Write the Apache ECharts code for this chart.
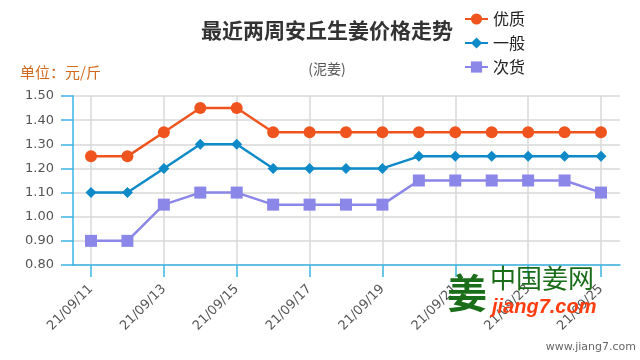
<!DOCTYPE html>
<html><head><meta charset="utf-8">
<script src="https://cdn.jsdelivr.net/npm/echarts@6/dist/echarts.min.js"></script>
<style>html,body{margin:0;padding:0;background:#fff}#c{width:640px;height:360px}</style>
</head><body><div id="c"></div>
<script>
var categories = ['21/09/11','21/09/12','21/09/13','21/09/14','21/09/15','21/09/16','21/09/17','21/09/18','21/09/19','21/09/20','21/09/21','21/09/22','21/09/23','21/09/24','21/09/25'];
var youzhi = [1.25,1.25,1.35,1.45,1.45,1.35,1.35,1.35,1.35,1.35,1.35,1.35,1.35,1.35,1.35];
var yiban  = [1.10,1.10,1.20,1.30,1.30,1.20,1.20,1.20,1.20,1.25,1.25,1.25,1.25,1.25,1.25];
var cihuo  = [0.90,0.90,1.05,1.10,1.10,1.05,1.05,1.05,1.05,1.15,1.15,1.15,1.15,1.15,1.10];
var seriesNames = ['优质','一般','次货'];
var yMin = 0.8, yMax = 1.5, yStep = 0.1;

var chart = echarts.init(document.getElementById('c'));
var font = '"Noto Sans CJK SC", "Noto Sans", sans-serif';
var axisBlue = '#3cb4e4';
var gridGray = '#d8d8d8';
chart.setOption({
  animation: false,
  textStyle: {fontFamily: font},
  title: [{
    text: '最近两周安丘生姜价格走势',
    left: 322, top: 15, textAlign: 'center',
    textStyle: {fontSize: 21, fontWeight: 'bold', color: '#333', fontFamily: font}
  },{
    text: '(泥姜)',
    left: 322, top: 57, textAlign: 'center',
    textStyle: {fontSize: 14, fontWeight: 'normal', color: '#555', fontFamily: font}
  }],
  legend: {
    orient: 'vertical', left: 459, top: 6, itemGap: 8, itemWidth: 23, itemHeight: 14,
    data: seriesNames,
    textStyle: {fontSize: 16, color: '#222', fontFamily: font}
  },
  grid: [
    {left: 73, right: 20, top: 96, bottom: 95},
    {left: 91, right: 39, top: 96, bottom: 95}
  ],
  xAxis: [{
    gridIndex: 0, type: 'category', data: categories, boundaryGap: true,
    axisLine: {lineStyle: {color: axisBlue, width: 1.5}},
    axisTick: {show: false}, axisLabel: {show: false}, splitLine: {show: false}
  },{
    gridIndex: 1, type: 'category', data: categories, boundaryGap: false,
    axisLine: {show: false},
    axisTick: {show: true, interval: 1, length: 12, lineStyle: {color: axisBlue, width: 1.5}},
    axisLabel: {interval: 1, rotate: 45, color: '#555', fontSize: 13, margin: 22, fontFamily: '"DejaVu Sans", sans-serif'},
    splitLine: {show: true, interval: 1, lineStyle: {color: gridGray, width: 1.5}}
  }],
  yAxis: [{
    gridIndex: 0, type: 'value', min: yMin, max: yMax, interval: yStep,
    name: '单位：元/斤', nameLocation: 'end', nameGap: 16,
    nameTextStyle: {color: '#d2691e', fontSize: 15, align: 'left', padding: [0,0,0,-53], fontFamily: font},
    axisLine: {show: true, lineStyle: {color: axisBlue, width: 1.5}},
    axisTick: {show: true, length: 12, lineStyle: {color: axisBlue, width: 1.5}},
    axisLabel: {formatter: function(v){return v.toFixed(2);}, color: '#555', fontSize: 13, margin: 19, fontFamily: '"DejaVu Sans", sans-serif'},
    splitLine: {show: true, lineStyle: {color: gridGray, width: 1.5}}
  },{
    gridIndex: 1, type: 'value', min: yMin, max: yMax, interval: yStep,
    axisLine: {show: false}, axisTick: {show: false}, axisLabel: {show: false}, splitLine: {show: false}
  }],
  series: [
    {name: seriesNames[0], type: 'line', xAxisIndex: 1, yAxisIndex: 1, data: youzhi, symbol: 'circle', symbolSize: 12,
     itemStyle: {color: '#f0541e'}, lineStyle: {width: 2.5, color: '#f0541e'}},
    {name: seriesNames[1], type: 'line', xAxisIndex: 1, yAxisIndex: 1, data: yiban, symbol: 'diamond', symbolSize: 11,
     itemStyle: {color: '#0e8ac8'}, lineStyle: {width: 2.5, color: '#0e8ac8'}},
    {name: seriesNames[2], type: 'line', xAxisIndex: 1, yAxisIndex: 1, data: cihuo, symbol: 'rect', symbolSize: 12,
     itemStyle: {color: '#8b87e8'}, lineStyle: {width: 2.5, color: '#8b87e8'}}
  ],
  graphic: [
    {type: 'text', left: 447, top: 273, z: 100, style: {text: '姜', fontSize: 40, fontWeight: 'bold', fill: '#1a6e1a', fontFamily: font}},
    {type: 'text', left: 490, top: 265, z: 100, style: {text: '中国姜网', fontSize: 26, fill: '#1a6e1a', fontFamily: font}},
    {type: 'text', left: 492, top: 297, z: 100, style: {text: 'jiang7.com', fontSize: 20, fontStyle: 'italic', fontWeight: 'bold', fill: '#ff3d0f', fontFamily: '"Liberation Sans", Arial, sans-serif'}},
    {type: 'text', right: 4, top: 342, z: 100, style: {text: 'www.jiang7.com', fontSize: 11, fill: '#666', fontFamily: '"DejaVu Sans", sans-serif'}}
  ]
});
</script></body></html>
